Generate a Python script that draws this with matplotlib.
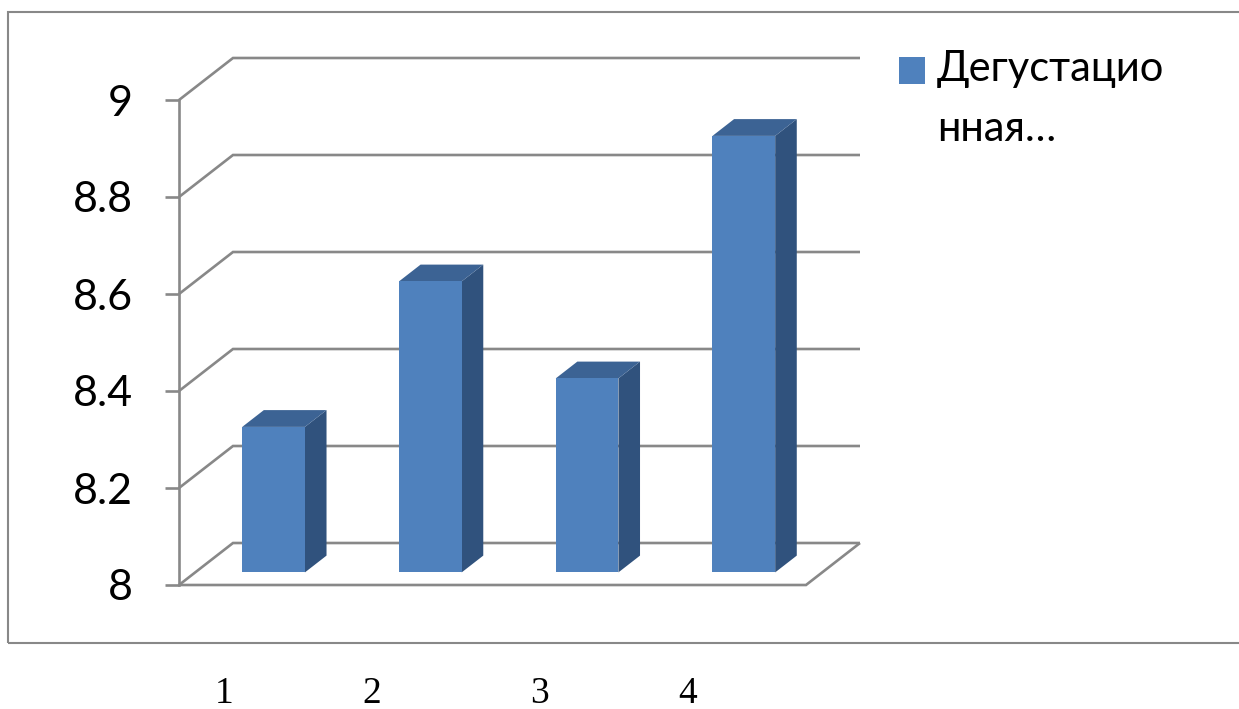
import matplotlib
matplotlib.use('Agg')
import matplotlib.pyplot as plt
from matplotlib.patches import Polygon, Rectangle
from matplotlib.transforms import IdentityTransform

categories = [1, 2, 3, 4]
values = [8.3, 8.6, 8.4, 8.9]
yticks = [8, 8.2, 8.4, 8.6, 8.8, 9]
ytick_labels = ['8', '8.2', '8.4', '8.6', '8.8', '9']
xlabels = ['1', '2', '3', '4']
legend_label = 'Дегустацио\nнная…'

GRAY = '#888888'
FRONT = '#4F81BD'
SIDE = '#30527D'
TOP = '#3C6394'
DX, DY = 54, 42          # full depth offset of the 3D wall, pixels
Z0, Z1 = 0.30, 0.70      # depth of bars (front, back)
W = 0.40                 # bar width, category units

fig = plt.figure(figsize=(12.39, 7.09), dpi=100)
W_PX, H_PX = 1239, 709
ax = fig.add_axes([179 / W_PX, (H_PX - 585) / H_PX, (806 - 179) / W_PX, (585 - 100) / H_PX])
ax.set_xlim(0.5, 4.5)
ax.set_ylim(8, 9)
for s in ['top', 'right', 'bottom']:
    ax.spines[s].set_visible(False)
ax.spines['left'].set_color(GRAY)
ax.spines['left'].set_linewidth(1.9)
ax.set_xticks([])
ax.set_yticks(yticks)
ax.set_yticklabels(ytick_labels, fontsize=31, family=['Lato', 'DejaVu Sans'])
ax.tick_params(axis='y', length=10, width=1.9, color=GRAY, pad=23)
ax.patch.set_visible(False)


def proj(x, y, z):
    px, py = ax.transData.transform((x, y))
    return px + DX * z, py + DY * z


def poly(pts, color, zorder, fill=True):
    p = Polygon([proj(*q) for q in pts], closed=fill, fill=fill,
                facecolor=color if fill else 'none', edgecolor=color if not fill else 'none',
                linewidth=1.9 if not fill else 0, transform=IdentityTransform(),
                clip_on=False, zorder=zorder, joinstyle='miter')
    fig.patches.append(p)


x0, x1 = 0.5, 4.5
# back wall gridlines with side wall diagonals
for v in yticks:
    poly([(x0, v, 0), (x0, v, 1), (x1, v, 1)], GRAY, 1, fill=False)
# floor front edge
poly([(x0, 8, 0), (x1, 8, 0), (x1, 8, 1)], GRAY, 1, fill=False)

# bars
for c, v in zip(categories, values):
    l, r = c - W / 2, c + W / 2
    poly([(r, 8, Z0), (r, 8, Z1), (r, v, Z1), (r, v, Z0)], SIDE, 3)
    poly([(l, v, Z0), (r, v, Z0), (r, v, Z1), (l, v, Z1)], TOP, 3)
    poly([(l, 8, Z0), (r, 8, Z0), (r, v, Z0), (l, v, Z0)], FRONT, 4)

# chart border
fig.patches.append(Rectangle((8 / W_PX, (H_PX - 643) / H_PX), 1.0, (643 - 12) / H_PX,
                             transform=fig.transFigure, fill=False, edgecolor=GRAY,
                             linewidth=1.5, clip_on=False))

# legend
fig.patches.append(Rectangle((899 / W_PX, (H_PX - 84) / H_PX), 26 / W_PX, 27 / H_PX,
                             transform=fig.transFigure, facecolor=FRONT, edgecolor='none'))
fig.text(937 / W_PX, (H_PX - 50) / H_PX, legend_label, fontsize=30, va='top', ha='left',
         family=['Lato', 'DejaVu Sans'], linespacing=1.72)

# category labels below the chart
for x, t in zip([224, 372, 540, 688], xlabels):
    fig.text(x / W_PX, (H_PX - 694) / H_PX, t, fontsize=27, ha='center', va='center',
             family=['Liberation Serif', 'DejaVu Serif'])

fig.savefig('out.png', dpi=100)
